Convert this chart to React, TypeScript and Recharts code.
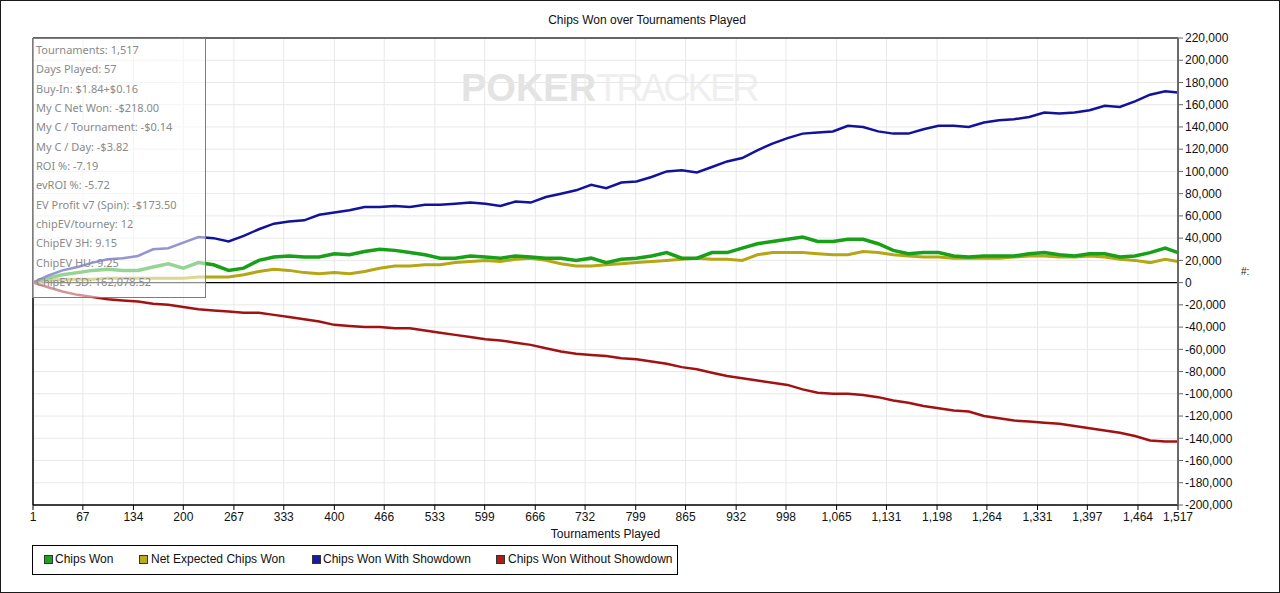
import React from "react";
import {
  LineChart,
  Line,
  XAxis,
  YAxis,
  CartesianGrid,
  ReferenceLine,
} from "recharts";

// tournaments played (x) and running chip totals
const tournaments = [
  1, 20, 40, 60, 80, 100, 120, 140, 160, 180, 200, 220, 240, 260, 280, 300,
  320, 340, 360, 380, 400, 420, 440, 460, 480, 500, 520, 540, 560, 580, 600,
  620, 640, 660, 680, 700, 720, 740, 760, 780, 800, 820, 840, 860, 880, 900,
  920, 940, 960, 980, 1000, 1020, 1040, 1060, 1080, 1100, 1120, 1140, 1160,
  1180, 1200, 1220, 1240, 1260, 1280, 1300, 1320, 1340, 1360, 1380, 1400,
  1420, 1440, 1460, 1480, 1500, 1517,
];

const chipsWon = [
  0, 4000, 7000, 9000, 11000, 12000, 11000, 11000, 14000, 17000,
  13000, 18000, 16000, 11000, 13000, 20000, 23000, 24000, 23000, 23000,
  26000, 25000, 28000, 30000, 29000, 27000, 25000, 22000, 22000, 24000,
  23000, 22000, 24000, 23000, 22000, 22000, 20000, 22000, 18000, 21000,
  22000, 24000, 27000, 22000, 22000, 27000, 27000, 31000, 35000, 37000,
  39000, 41000, 37000, 37000, 39000, 39000, 35000, 29000, 26000, 27000,
  27000, 24000, 23000, 24000, 24000, 24000, 26000, 27000, 25000, 24000,
  26000, 26000, 23000, 24000, 27000, 31000, 27000,
];

const netExpected = [
  0, 2000, 3000, 3000, 3000, 4000, 4000, 4000, 4000, 4000,
  4000, 5000, 5000, 5000, 7000, 10000, 12000, 11000, 9000, 8000,
  9000, 8000, 10000, 13000, 15000, 15000, 16000, 16000, 18000, 19000,
  20000, 19000, 21000, 22000, 20000, 17000, 15000, 15000, 16000, 17000,
  18000, 19000, 20000, 21000, 22000, 21000, 21000, 20000, 25000, 27000,
  27000, 27000, 26000, 25000, 25000, 28000, 27000, 25000, 24000, 23000,
  23000, 22000, 22000, 22000, 22000, 23000, 24000, 24000, 23000, 23000,
  24000, 23000, 21000, 20000, 18000, 21000, 19000,
];

const withShowdown = [
  0, 6000, 11000, 14000, 18000, 21000, 22000, 24000, 30000, 31000,
  36000, 41000, 40000, 37000, 42000, 48000, 53000, 55000, 56000, 61000,
  63000, 65000, 68000, 68000, 69000, 68000, 70000, 70000, 71000, 72000,
  71000, 69000, 73000, 72000, 77000, 80000, 83000, 88000, 85000, 90000,
  91000, 95000, 100000, 101000, 99000, 104000, 109000, 112000, 119000, 125000,
  130000, 134000, 135000, 136000, 141000, 140000, 136000, 134000, 134000, 138000,
  141000, 141000, 140000, 144000, 146000, 147000, 149000, 153000, 152000, 153000,
  155000, 159000, 158000, 163000, 169000, 172000, 171000,
];

const withoutShowdown = [
  0, -4000, -8000, -11000, -13000, -15000, -16000, -17000, -19000, -20000,
  -22000, -24000, -25000, -26000, -27000, -27000, -29000, -31000, -33000, -35000,
  -38000, -39000, -40000, -40000, -41000, -41000, -43000, -45000, -47000, -49000,
  -51000, -52000, -54000, -56000, -59000, -62000, -64000, -65000, -66000, -68000,
  -69000, -71000, -73000, -76000, -78000, -81000, -84000, -86000, -88000, -90000,
  -92000, -96000, -99000, -100000, -100000, -101000, -103000, -106000, -108000, -111000,
  -113000, -115000, -116000, -120000, -122000, -124000, -125000, -126000, -127000, -129000,
  -131000, -133000, -135000, -138000, -142000, -143000, -143000,
];

const xTicks = [
  1, 67, 134, 200, 267, 333, 400, 466, 533, 599, 666, 732, 799, 865, 932, 998,
  1065, 1131, 1198, 1264, 1331, 1397, 1464, 1517,
];

const yTicks = [
  -200000, -180000, -160000, -140000, -120000, -100000, -80000, -60000, -40000,
  -20000, 0, 20000, 40000, 60000, 80000, 100000, 120000, 140000, 160000, 180000,
  200000, 220000,
];

const statLines = [
  "Tournaments: 1,517",
  "Days Played: 57",
  "Buy-In: $1.84+$0.16",
  "My C Net Won: -$218.00",
  "My C / Tournament: -$0.14",
  "My C / Day: -$3.82",
  "ROI %: -7.19",
  "evROI %: -5.72",
  "EV Profit v7 (Spin): -$173.50",
  "chipEV/tourney: 12",
  "ChipEV 3H: 9.15",
  "ChipEV HU: 9.25",
  "ChipEV SD: 162,078.52",
];

const legendItems = [
  { name: "Chips Won", color: "#22a022", box: 11, text: 22 },
  { name: "Net Expected Chips Won", color: "#b8ac1c", box: 106, text: 118 },
  { name: "Chips Won With Showdown", color: "#1a1aa2", box: 279, text: 290 },
  { name: "Chips Won Without Showdown", color: "#b01a1a", box: 463, text: 475 },
];

const data = tournaments.map((t, i) => ({
  t,
  chipsWon: chipsWon[i],
  netExpected: netExpected[i],
  withShowdown: withShowdown[i],
  withoutShowdown: withoutShowdown[i],
}));

const AXIS_FONT = "'Liberation Sans', Arial, sans-serif";
const fmt = (v: number) => v.toLocaleString("en-US");

export default function App() {
  return (
    <div
      style={{
        position: "absolute",
        left: 0,
        top: 0,
        width: 1280,
        height: 593,
        background: "#fff",
        overflow: "hidden",
        fontFamily: AXIS_FONT,
      }}
    >
      {/* watermark sits under the plot */}
      <div
        style={{
          position: "absolute",
          left: 461,
          top: 66,
          fontSize: 38,
          lineHeight: "44px",
          whiteSpace: "nowrap",
        }}
      >
        <span style={{ fontWeight: "bold", color: "#e3e3e3" }}>POKER</span>
        <span style={{ color: "#efefef", letterSpacing: -3 }}>TRACKER</span>
      </div>

      <div style={{ position: "absolute", left: 0, top: 0 }}>
        <LineChart
          width={1280}
          height={593}
          data={data}
          margin={{ top: 38, right: 42, bottom: 58, left: 33 }}
        >
          <CartesianGrid stroke="#e8e8e8" strokeWidth={1} />
          <XAxis
            type="number"
            dataKey="t"
            domain={[1, 1517]}
            ticks={xTicks}
            interval={0}
            height={30}
            tickFormatter={fmt}
            tick={{ fill: "#111", fontSize: 12, fontFamily: AXIS_FONT }}
            tickSize={5}
            tickLine={{ stroke: "#000" }}
            axisLine={{ stroke: "#000", strokeWidth: 1.5 }}
          />
          <YAxis
            orientation="right"
            type="number"
            domain={[-200000, 220000]}
            ticks={yTicks}
            interval={0}
            width={60}
            tickFormatter={fmt}
            tick={{ fill: "#111", fontSize: 12, fontFamily: AXIS_FONT }}
            tickSize={5}
            tickLine={{ stroke: "#666" }}
            axisLine={{ stroke: "#6a6a6a", strokeWidth: 2 }}
          />
          <ReferenceLine y={220000} stroke="#666" strokeWidth={2} />
          <ReferenceLine x={1} stroke="#000" strokeWidth={1.5} />
          <ReferenceLine y={0} stroke="#000" strokeWidth={1.2} />
          <Line
            type="linear"
            dataKey="netExpected"
            stroke="#b4a614"
            strokeWidth={3}
            dot={false}
            isAnimationActive={false}
          />
          <Line
            type="linear"
            dataKey="chipsWon"
            stroke="#18a018"
            strokeWidth={3.5}
            dot={false}
            isAnimationActive={false}
          />
          <Line
            type="linear"
            dataKey="withShowdown"
            stroke="#12129c"
            strokeWidth={2.5}
            dot={false}
            isAnimationActive={false}
          />
          <Line
            type="linear"
            dataKey="withoutShowdown"
            stroke="#a21212"
            strokeWidth={2.5}
            dot={false}
            isAnimationActive={false}
          />
        </LineChart>
      </div>

      {/* title */}
      <div
        style={{
          position: "absolute",
          left: 0,
          width: 1294,
          top: 13,
          textAlign: "center",
          fontSize: 12,
          color: "#111",
        }}
      >
        Chips Won over Tournaments Played
      </div>

      {/* x axis title */}
      <div
        style={{
          position: "absolute",
          left: 33,
          width: 1145,
          top: 527,
          textAlign: "center",
          fontSize: 12,
          color: "#111",
        }}
      >
        Tournaments Played
      </div>

      {/* y axis title */}
      <div
        style={{
          position: "absolute",
          left: 1241,
          top: 266,
          fontSize: 10,
          color: "#222",
        }}
      >
        #:
      </div>

      {/* legend */}
      <div
        style={{
          position: "absolute",
          left: 32,
          top: 545,
          width: 646,
          height: 30,
          border: "1px solid #000",
          boxSizing: "border-box",
        }}
      >
        {legendItems.map((it) => (
          <React.Fragment key={it.name}>
            <div
              style={{
                position: "absolute",
                left: it.box,
                top: 9,
                width: 7,
                height: 7,
                background: it.color,
                border: "1px solid #333",
              }}
            />
            <div
              style={{
                position: "absolute",
                left: it.text,
                top: 6,
                fontSize: 12,
                color: "#111",
                whiteSpace: "nowrap",
              }}
            >
              {it.name}
            </div>
          </React.Fragment>
        ))}
      </div>

      {/* stats overlay box */}
      <div
        style={{
          position: "absolute",
          left: 32,
          top: 38,
          width: 174,
          height: 260,
          boxSizing: "border-box",
          border: "1px solid #7c7c7c",
          background: "rgba(255,255,255,0.55)",
          paddingTop: 1,
          paddingLeft: 3,
          fontFamily: "'Noto Sans', sans-serif",
          fontSize: 11,
          color: "#8a8a8a",
        }}
      >
        {statLines.map((s) => (
          <div key={s} style={{ height: 19.33, lineHeight: "19.33px", whiteSpace: "nowrap" }}>
            {s}
          </div>
        ))}
      </div>

      {/* outer frame */}
      <div
        style={{
          position: "absolute",
          left: 0,
          top: 0,
          width: 1280,
          height: 593,
          boxSizing: "border-box",
          border: "1px solid #1a1a1a",
          pointerEvents: "none",
        }}
      />
    </div>
  );
}
